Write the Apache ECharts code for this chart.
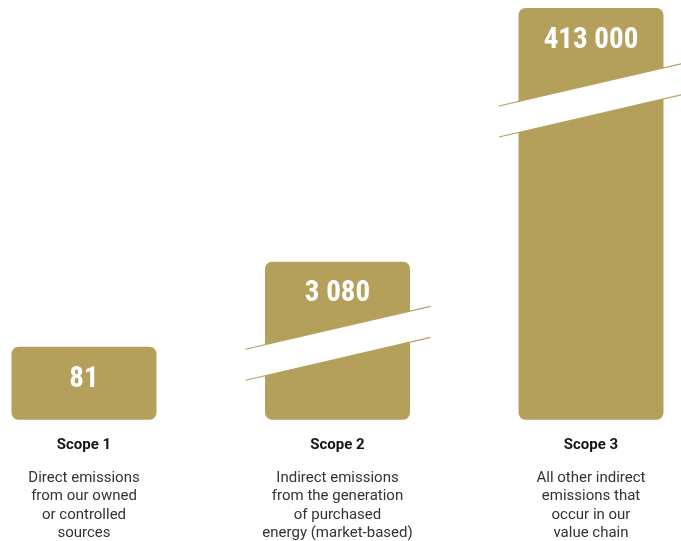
<!DOCTYPE html>
<html>
<head>
<meta charset="utf-8">
<script src="https://cdn.jsdelivr.net/npm/echarts@6/dist/echarts.min.js"></script>
<style>
  html, body { margin: 0; padding: 0; background: #ffffff; }
  #chart { width: 681px; height: 541px; }
</style>
</head>
<body>
<div id="chart"></div>
<script>
// Greenhouse gas emissions by scope (tonnes CO2e)
const categories = ['Scope 1', 'Scope 2', 'Scope 3'];
const descriptions = [
  ['Direct emissions', 'from our owned', 'or controlled', 'sources'],
  ['Indirect emissions', 'from the generation', 'of purchased', 'energy (market-based)'],
  ['All other indirect', 'emissions that', 'occur in our', 'value chain']
];
const emissions = [81, 3080, 413000];

// Value ranges skipped by the broken value axis
const axisBreaks = [
  { start: 82, end: 2992, gap: 5.6 },
  { start: 3256, end: 412901, gap: 6.7 }
];
// Which bar shows which break: [category index, break index]
const breakMarks = [[1, 0], [2, 1]];

const GOLD = '#b5a05b';

function spaced(v) {
  return String(v).replace(/\B(?=(\d{3})+(?!\d))/g, ' ');
}

const chart = echarts.init(document.getElementById('chart'), null, { renderer: 'canvas' });

chart.setOption({
  animation: false,
  grid: { left: 84, right: 90, top: 8, bottom: 121 },
  xAxis: {
    type: 'category',
    data: categories,
    boundaryGap: false,
    axisLine: { show: false },
    axisTick: { show: false },
    splitLine: { show: false },
    axisLabel: {
      interval: 0,
      margin: 2,
      align: 'center',
      formatter: function (value, idx) {
        const lines = descriptions[idx].map(function (l) { return '{d|' + l + '}'; });
        return '{t|' + value + '}\n' + lines.join('\n');
      },
      rich: {
        t: { fontFamily: 'Roboto', fontWeight: 'bold', fontSize: 15, lineHeight: 47, color: '#151515', align: 'center' },
        d: { fontFamily: 'Roboto', fontSize: 15, lineHeight: 18.5, color: '#333333', align: 'center' }
      }
    }
  },
  yAxis: {
    type: 'value',
    min: 0,
    max: 413000,
    show: false,
    splitLine: { show: false },
    breaks: axisBreaks,
    breakArea: { show: false }
  },
  series: [
    {
      type: 'bar',
      data: emissions,
      barWidth: 145,
      clip: false,
      itemStyle: { color: GOLD, borderRadius: 7 },
      label: {
        show: true,
        position: 'insideTop',
        distance: 18,
        color: '#ffffff',
        fontFamily: '"Liberation Sans Narrow", "Roboto Condensed", Roboto, sans-serif',
        fontWeight: 'bold',
        fontSize: 29,
        lineHeight: 29,
        formatter: function (p) { return spaced(p.value); }
      }
    },
    {
      // White slanted cut across a bar where the value axis is broken
      type: 'custom',
      z: 5,
      clip: false,
      data: breakMarks,
      renderItem: function (params, api) {
        const br = axisBreaks[api.value(1)];
        const a = api.coord([api.value(0), br.start]);
        const b = api.coord([api.value(0), br.end]);
        const cx = a[0];
        const yc = (a[1] + b[1]) / 2;
        const slope = 0.232;
        const half = 15.5;
        const xl = cx - 92, xr = cx + 93;
        const yAt = function (x, off) { return yc - slope * (x - cx) + off; };
        return {
          type: 'group',
          children: [
            {
              type: 'polygon',
              shape: { points: [[xl, yAt(xl, -half)], [xr, yAt(xr, -half)], [xr, yAt(xr, half)], [xl, yAt(xl, half)]] },
              style: { fill: '#ffffff' }
            },
            {
              type: 'line',
              shape: { x1: xl, y1: yAt(xl, -half), x2: xr, y2: yAt(xr, -half) },
              style: { stroke: GOLD, lineWidth: 1.2 }
            },
            {
              type: 'line',
              shape: { x1: xl, y1: yAt(xl, half), x2: xr, y2: yAt(xr, half) },
              style: { stroke: GOLD, lineWidth: 1.2 }
            }
          ]
        };
      }
    }
  ]
});
</script>
</body>
</html>
